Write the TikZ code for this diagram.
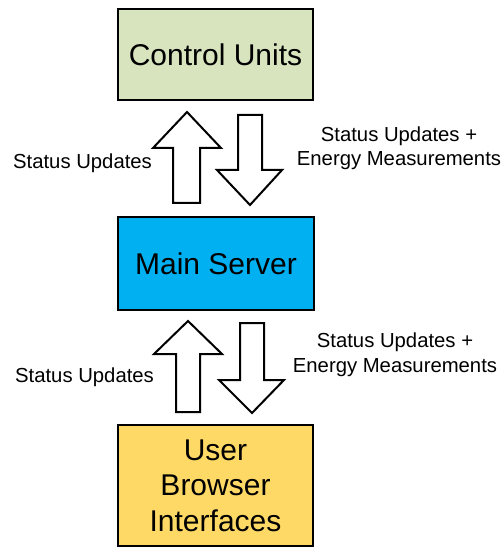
\documentclass[tikz,border=0pt]{standalone}
\usepackage{fontspec}
\setmainfont{Liberation Sans}
\definecolor{cugreen}{HTML}{D7E4BD}
\definecolor{msblue}{HTML}{00B0F0}
\definecolor{ubgold}{HTML}{FFD966}
\begin{document}
\begin{tikzpicture}[x=1bp,y=-1bp,
  box/.style={draw=black, line width=2.5bp, align=center, inner sep=0pt,
    font=\fontsize{30bp}{35.5bp}\selectfont},
  blockarrow/.style={draw=black, fill=white, line width=2bp, line join=miter},
  lbl/.style={align=center, inner sep=0pt, anchor=base,
    font=\fontsize{20.3bp}{24.5bp}\selectfont}]
\useasboundingbox (0,0) rectangle (501,548);
% boxes
\node[box, fill=cugreen, minimum width=195bp, minimum height=91bp] (cu) at (215.5,54.5) {Control Units};
\node[box, fill=msblue, minimum width=196bp, minimum height=93bp] (ms) at (216,263.5) {Main Server};
\node[box, fill=ubgold, minimum width=195bp, minimum height=121bp] (ub) at (215.5,485.5) {User\\Browser\\Interfaces};
% top arrows (Main Server <-> Control Units)
\draw[blockarrow] (173,203) -- (173,148) -- (153,148) -- (187,112) -- (221,148) -- (200,148) -- (200,203) -- cycle;
\draw[blockarrow] (238,115) -- (238,170) -- (217,170) -- (250,205) -- (282,170) -- (262,170) -- (262,115) -- cycle;
% bottom arrows (User Browser Interfaces <-> Main Server)
\draw[blockarrow] (176,412) -- (176,354) -- (154,354) -- (188,321) -- (222,354) -- (200,354) -- (200,412) -- cycle;
\draw[blockarrow] (240,323) -- (240,380) -- (219,380) -- (252,413) -- (284,380) -- (264,380) -- (264,323) -- cycle;
% labels
\node[lbl] (l1) at (82.5,169) {Status Updates};
\node[lbl] (r1) at (399,166) {Status Updates +\\Energy Measurements};
\node[lbl] (l2) at (84.5,382) {Status Updates};
\node[lbl] (r2) at (395,372) {Status Updates +\\Energy Measurements};
\end{tikzpicture}
\end{document}
